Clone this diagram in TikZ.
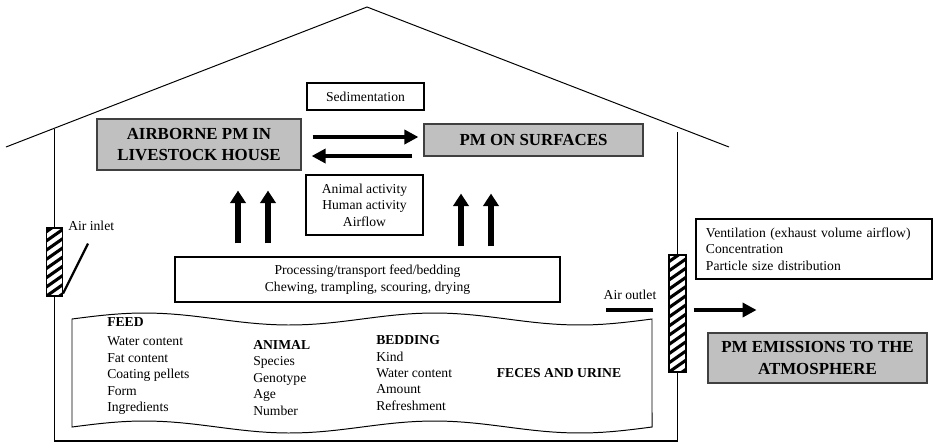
\documentclass[tikz,border=0pt]{standalone}
\usepackage{fontspec}
\setmainfont{Liberation Serif}
\usetikzlibrary{arrows.meta}
\definecolor{boxgray}{HTML}{C0C0C0}

\tikzset{
  txt/.style={font=\fontsize{9.7}{11.7}\selectfont, align=center, inner sep=0pt},
  textbox/.style={txt, draw, line width=0.8pt},
  graybox/.style={draw=black!75, line width=0.8pt, fill=boxgray, align=center,
    inner sep=0pt, font=\fontsize{12}{15}\selectfont\bfseries},
  fatarrow/.style={line width=3.5pt, -{Triangle[length=10pt,width=10pt]}},
  uparrow/.style={line width=4pt, -{Triangle[length=9pt,width=11pt]}},
  wall/.style={line width=0.9pt},
  vent/.style={draw, line width=0.8pt, inner sep=0pt, minimum width=0.4cm,
    path picture={
      \foreach \k in {-2,...,14}
        \draw[line width=2.2pt] ([yshift=\k*0.23cm]path picture bounding box.south west)
          ++(-0.1cm,-0.07cm) -- ++(0.7cm,0.49cm);
    }}
}

\begin{document}
\begin{tikzpicture}[x=0.025cm, y=-0.025cm]
  \useasboundingbox (0,0) rectangle (934,443);

  % boxes
  \node[graybox, minimum width=5.1cm, minimum height=1.275cm] (airborne) at (199,144.5) {AIRBORNE PM IN\\LIVESTOCK HOUSE};
  \node[graybox, minimum width=5.475cm, minimum height=0.8cm] (surfaces) at (533.5,140) {PM ON SURFACES};
  \node[graybox, minimum width=5.475cm, minimum height=1.25cm] (emission) at (817.5,358) {PM EMISSIONS TO THE\\ATMOSPHERE};
  \node[textbox, minimum width=2.925cm, minimum height=0.675cm] (sediment) at (365.5,96.5) {Sedimentation};
  \node[textbox, minimum width=2.925cm, minimum height=1.5cm] (activity) at (364.5,205) {Animal activity\\Human activity\\Airflow};
  \node[textbox, minimum width=9.625cm, minimum height=1.125cm] (process) at (367.5,279.5) {Processing/transport feed/bedding\\Chewing, trampling, scouring, drying};
  \node[textbox, text width=5.4cm, align=left, inner xsep=0.25cm, minimum height=1.5cm] (ventil) at (814,249) {Ventilation (exhaust volume airflow)\\Concentration\\Particle size distribution};

  % inlet and outlet
  \node[vent, minimum height=1.7cm] (inlet) at (54.5,262) {};
  \node[vent, minimum width=0.425cm, minimum height=2.925cm] (outlet) at (677.5,313.5) {};
  \node[txt, anchor=west] (inlettxt) at (68,226) {Air inlet};
  \node[txt] (outlettxt) at (630,295) {Air outlet};

  % house
  \draw[line width=0.7pt] (6,147) -- (367,7) -- (729,147);
  \draw[wall] (inlet.north |- 0,129) -- (inlet.north);
  \draw[wall] (inlet.south) -- (inlet.south |- 0,441) -- (outlet.south |- 0,441) -- (outlet.south);
  \draw[wall] (outlet.north) -- (outlet.north |- 0,132);
  \draw[line width=1.6pt] ([yshift=0.075cm]inlet.south east) -- ++(25,-50);

  % floor banner
  \draw[line width=0.7pt] plot[domain=72:652, samples=60] (\x,{319-6*sin(1.24138*(\x-72))})
    -- plot[domain=652:72, samples=60] (\x,{427-6*sin(1.24138*(\x-72))}) -- cycle;
  \node[txt, align=left, anchor=west] (feed) at (107,366) {\textbf{FEED}\\[2pt]Water content\\Fat content\\Coating pellets\\Form\\Ingredients};
  \node[txt, align=left, anchor=west] (animal) at (253,378) {\textbf{ANIMAL}\\Species\\Genotype\\Age\\Number};
  \node[txt, align=left, anchor=west] (bedding) at (376,373) {\textbf{BEDDING}\\Kind\\Water content\\Amount\\Refreshment};
  \node[txt] (feces) at (559,373) {\textbf{FECES AND URINE}};

  % arrows
  \coordinate (r1) at ([yshift=0.1875cm]airborne.east);
  \coordinate (l1) at ([yshift=-0.4cm]surfaces.west);
  \draw[fatarrow, shorten <=0.275cm, shorten >=0.125cm] (r1) -- (r1 -| surfaces.west);
  \draw[fatarrow, shorten <=0.275cm, shorten >=0.25cm] (l1) -- (l1 -| airborne.east);
  \foreach \x in {238,268}
    \draw[uparrow, shorten <=0.325cm, shorten >=0.5cm] (process.north -| \x,0) -- (airborne.south -| \x,0);
  \foreach \x in {461,491}
    \draw[uparrow, shorten <=0.25cm, shorten >=0.925cm] (process.north -| \x,0) -- (surfaces.south -| \x,0);
  \coordinate (o1) at ([xshift=-0.375cm, yshift=0.0875cm]outlet.west);
  \coordinate (o2) at ([xshift=0.175cm, yshift=0.0875cm]outlet.east);
  \draw[line width=3.5pt] (o1) -- ++(-47,0);
  \draw[fatarrow] (o2) -- ++(63,0);
\end{tikzpicture}
\end{document}
